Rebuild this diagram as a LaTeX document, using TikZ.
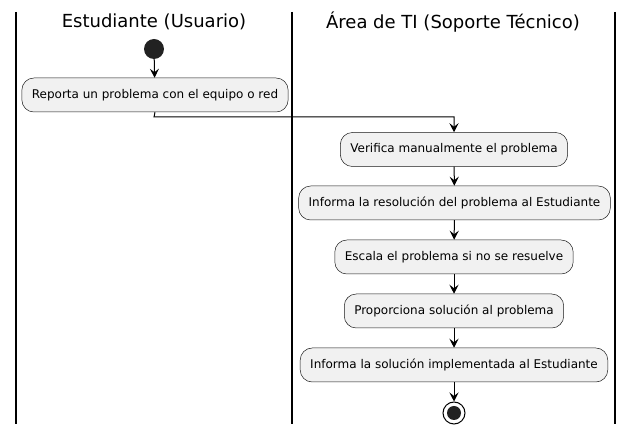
\documentclass[tikz,border=0pt]{standalone}
\usepackage{fontspec}
\setmainfont{DejaVu Sans}
\usetikzlibrary{arrows.meta}
\definecolor{actfill}{HTML}{F1F1F1}
\definecolor{actdraw}{HTML}{181818}
\definecolor{dotfill}{HTML}{222222}
\tikzset{
  act/.style={draw=actdraw, fill=actfill, rounded corners=12pt, line width=0.5pt,
    minimum height=34pt, inner xsep=10pt, font=\fontsize{12}{14}\selectfont},
  lane/.style={line width=1.5pt, draw=black},
  title/.style={font=\fontsize{18}{21}\selectfont},
  flow/.style={line width=1pt, -{Stealth[length=9pt,width=9pt,inset=3.5pt]}}
}
\begin{document}
\begin{tikzpicture}[x=1pt,y=-1pt]
\useasboundingbox (0,0) rectangle (633,435);
% lanes
\draw[lane] (16,12) -- (16,424);
\draw[lane] (292,12) -- (292,424);
\draw[lane] (615,12) -- (615,424);
\node[title] (t1) at (154,22) {Estudiante (Usuario)};
\node[title] (t2) at (453,22) {Área de TI (Soporte Técnico)};
% start
\node[circle, fill=dotfill, minimum size=20pt, inner sep=0pt] (start) at (154,49) {};
\node[act] (b1) at (155,95) {Reporta un problema con el equipo o red};
\node[act] (b2) at (454,149.5) {Verifica manualmente el problema};
\node[act] (b3) at (454.5,203) {Informa la resolución del problema al Estudiante};
\node[act] (b4) at (454,257) {Escala el problema si no se resuelve};
\node[act] (b5) at (454,311) {Proporciona solución al problema};
\node[act] (b6) at (454,365) {Informa la solución implementada al Estudiante};
% end
\node[circle, draw=black, line width=1pt, fill=white, minimum size=22pt, inner sep=0pt] (end) at (454,413) {};
\node[circle, fill=dotfill, minimum size=14pt, inner sep=0pt] (endin) at (end) {};
\coordinate (k1) at (154,117);
\coordinate (k2) at (454,117);
\draw[flow] (start) -- (b1);
\draw[flow] (b1.south) -- (k1) -- (k2) -- (b2.north);
\draw[flow] (b2) -- (b3);
\draw[flow] (b3) -- (b4);
\draw[flow] (b4) -- (b5);
\draw[flow] (b5) -- (b6);
\draw[flow] (b6) -- (end);
\end{tikzpicture}
\end{document}
